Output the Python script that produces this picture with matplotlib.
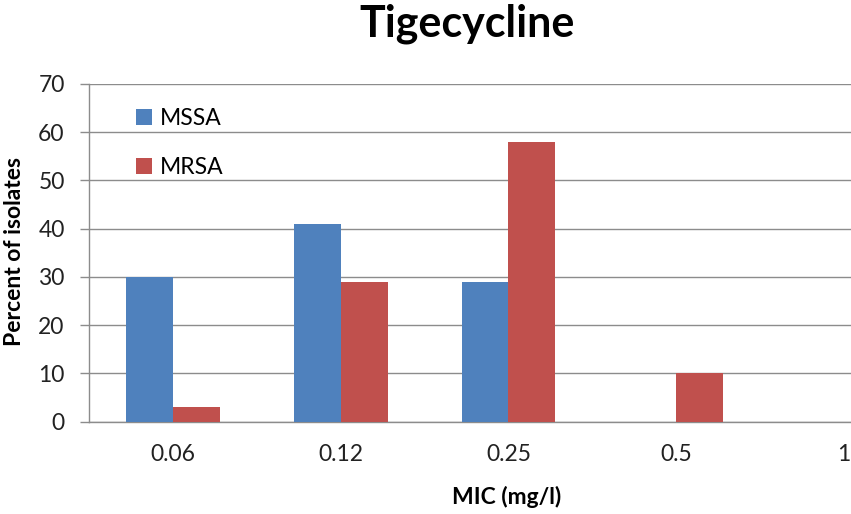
import matplotlib
matplotlib.use("Agg")
import matplotlib.pyplot as plt
import numpy as np

# MIC distribution for tigecycline, percent of isolates per MIC value
mic_labels = ["0.06", "0.12", "0.25", "0.5", "1"]
mssa = [30, 41, 29, 0, 0]
mrsa = [3, 29, 58, 10, 0]

plt.rcParams['font.family'] = ['Lato', 'DejaVu Sans']

fig = plt.figure(figsize=(8.51, 5.14), dpi=100)
# plot area runs past the right edge, last category is partly cut off
ax = fig.add_axes([89 / 851, 92.3 / 514, 839 / 851, 337.7 / 514])

x = np.arange(len(mic_labels))
w = 0.28
ax.bar(x - w / 2, mssa, width=w, color='#4F81BD', label='MSSA', zorder=3)
ax.bar(x + w / 2, mrsa, width=w, color='#C0504D', label='MRSA', zorder=3)

ax.set_xlim(-0.5, len(mic_labels) - 0.5)
ax.set_ylim(0, 70)
ax.set_yticks(range(0, 71, 10))
ax.set_xticks(x)
ax.set_xticklabels(mic_labels)

grid_col = '#8c8c8c'
ax.yaxis.grid(True, color=grid_col, linewidth=1.0, zorder=0)
for side in ['top', 'right']:
    ax.spines[side].set_visible(False)
for side in ['left', 'bottom']:
    ax.spines[side].set_color(grid_col)
    ax.spines[side].set_linewidth(1.0)

fs = 16.5
ax.tick_params(axis='y', length=6.5, width=1.0, color=grid_col, pad=11,
               labelsize=fs, labelcolor='#222222')
ax.tick_params(axis='x', length=0, pad=16, labelsize=fs, labelcolor='#222222')

fig.text(15 / 851, 1 - 252 / 514, 'Percent of isolates', fontsize=fs,
         fontweight='bold', rotation=90, ha='center', va='center')
fig.text(507 / 851, 1 - 497 / 514, 'MIC (mg/l)', fontsize=fs,
         fontweight='bold', ha='center', va='center')

fig.text(467 / 851, 1 - 37 / 514, 'Tigecycline', fontsize=31, fontweight='bold',
         ha='center', va='baseline')

ax.legend(loc='upper left', bbox_to_anchor=(0.045, 0.955), frameon=False,
          fontsize=fs, handlelength=0.68, handleheight=0.68, handletextpad=0.35,
          labelspacing=1.22, borderaxespad=0)

fig.savefig('out.png', dpi=100)
